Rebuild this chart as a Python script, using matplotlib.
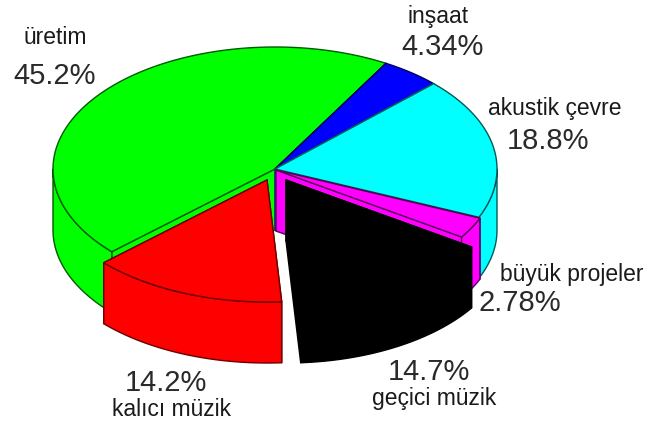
import numpy as np
import matplotlib
matplotlib.use("Agg")
import matplotlib.pyplot as plt
from matplotlib.patches import Polygon

plt.rcParams['font.family'] = ['Liberation Sans', 'DejaVu Sans']

labels = ["üretim", "inşaat", "akustik çevre", "büyük projeler", "geçici müzik", "kalıcı müzik"]
values = [45.2, 4.34, 18.8, 2.78, 14.7, 14.2]
colors = ["#00ff00", "#0000ff", "#00ffff", "#ff00ff", "#000000", "#ff0000"]
edges = ["#005a00", "#00005a", "#005a5a", "#5a005a", "#000000", "#6a0000"]

# how far each slice is pulled out, in pixels
explode_x = [0, 0, 0, 1, 11, -8]
explode_y = [0, 0, 0, 1, 11, 11]

label_pos = [(55, 37), (438, 16), (555, 108), (572, 275), (434, 398), (171, 409)]
pct_pos = [(55, 76), (443, 47), (548, 141), (520, 303), (429, 372), (166, 383)]

cx, cy = 275, 169
rx, ry = 222, 122
depth = 61
end_of_first = 60


def arc(x0, y0, t):
    return np.column_stack([x0 + rx * np.cos(t), y0 - ry * np.sin(t)])


fig = plt.figure(figsize=(6.49, 4.23), dpi=100)
ax = fig.add_axes([0, 0, 1, 1])
ax.set_xlim(0, 649)
ax.set_ylim(423, 0)
ax.axis("off")

sweep = np.array(values) / sum(values) * 360
start = end_of_first + sweep[0]

for i in range(len(values)):
    end = start - sweep[i]
    x0, y0 = cx + explode_x[i], cy + explode_y[i]
    t = np.radians(np.linspace(start, end, 200))
    top = arc(x0, y0, t)
    style = dict(facecolor=colors[i], edgecolor=edges[i], linewidth=1.0, joinstyle="round")

    # flat walls on both cuts
    for a in (start, end):
        p = arc(x0, y0, np.radians([a]))[0]
        ax.add_patch(Polygon([(x0, y0), (x0, y0 + depth), (p[0], p[1] + depth), p], **style))

    # outer rim, only the part facing the viewer
    front = top[np.sin(t) <= 0]
    if len(front) > 1:
        rim = np.vstack([front, (front + [0, depth])[::-1]])
        ax.add_patch(Polygon(rim, **style))

    ax.add_patch(Polygon(np.vstack([[(x0, y0)], top]), **style))
    start = end

for i in range(len(values)):
    ax.text(*label_pos[i], labels[i], fontsize=16.5, color="#1a1a1a", ha="center", va="center")
    ax.text(*pct_pos[i], f"{values[i]}%", fontsize=21, color="#2a2a2a", ha="center", va="center")

fig.savefig("out.png", dpi=100)
